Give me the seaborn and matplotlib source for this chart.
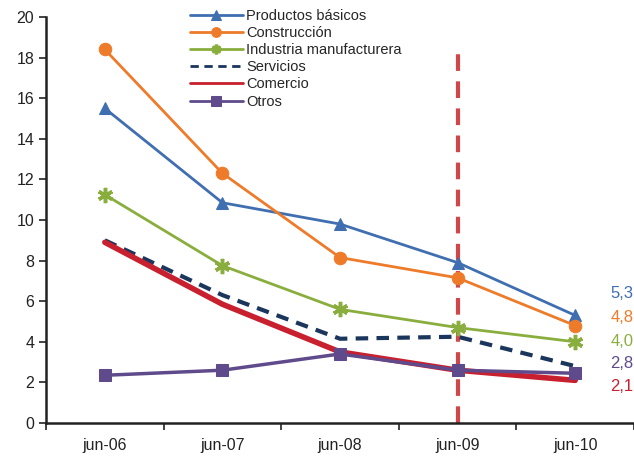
import matplotlib
matplotlib.use("Agg")
import matplotlib.pyplot as plt
import seaborn as sns
import pandas as pd

periods = ["jun-06", "jun-07", "jun-08", "jun-09", "jun-10"]
productos = [15.5, 10.85, 9.8, 7.9, 5.3]
construccion = [18.4, 12.3, 8.15, 7.15, 4.8]
industria = [11.25, 7.75, 5.6, 4.7, 4.0]
servicios = [9.0, 6.3, 4.15, 4.25, 2.8]
comercio = [8.9, 5.85, 3.5, 2.6, 2.1]
otros = [2.35, 2.6, 3.4, 2.6, 2.45]
end_labels = ["5,3", "4,8", "4,0", "2,8", "2,1"]
end_label_y = [6.4, 5.2, 4.0, 2.95, 1.8]
end_label_colors = ["#3F6FB0", "#EE7B2A", "#8AAE3E", "#5F4B8B", "#C8202F"]

sns.set_theme(style="white")
plt.rcParams['font.family'] = ['Liberation Sans', 'DejaVu Sans']

fig = plt.figure(figsize=(6.34, 4.66), dpi=100)
ax = fig.add_axes([0.0726, 0.0923, 0.9274, 0.8712])

series = [
    ("Productos básicos", productos, dict(color="#3F6FB0", marker="^", markersize=9, linewidth=2.0, linestyle="-")),
    ("Construcción", construccion, dict(color="#EE7B2A", marker="o", markersize=9, linewidth=2.0, linestyle="-")),
    ("Industria manufacturera", industria, dict(color="#8AAE3E", marker=(6, 2, 0), markersize=11, markeredgewidth=2.5, linewidth=2.0, linestyle="-")),
    ("Servicios", servicios, dict(color="#1B365D", marker=None, linewidth=3.0, linestyle=(0, (3, 2)))),
    ("Comercio", comercio, dict(color="#C8202F", marker=None, linewidth=4.0, linestyle="-")),
    ("Otros", otros, dict(color="#5F4B8B", marker="s", markersize=9, linewidth=2.5, linestyle="-")),
]

xs = list(range(len(periods)))
for name, vals, kw in series:
    df = pd.DataFrame({"x": xs, "y": vals})
    sns.lineplot(data=df, x="x", y="y", ax=ax, label=name, markeredgecolor=kw["color"], **kw)

# vertical dashed line at jun-09
ax.plot([3, 3], [0, 18.6], color="#D0474A", linewidth=3.0, linestyle=(0, (4, 2.5)), zorder=1)

for lab, yv, c in zip(end_labels, end_label_y, end_label_colors):
    ax.text(4.3, yv, lab, color=c, fontsize=12, va="center", ha="left")

ax.set_xlim(-0.5, 4.5)
ax.set_ylim(0, 20)
ax.set_yticks(range(0, 21, 2))
ax.set_xticks(xs)
ax.set_xticklabels(periods)
ax.set_xticks([i - 0.5 for i in range(6)], minor=True)
ax.tick_params(axis="x", which="major", length=0, pad=11, labelsize=11.5, colors="#222222")
ax.tick_params(axis="x", which="minor", length=5, width=1.2, direction="out", color="#222222", bottom=True)
ax.tick_params(axis="y", length=5, width=1.2, direction="out", left=True, labelsize=11.5, colors="#222222")
ax.set_xlabel("")
ax.set_ylabel("")
for s in ["top", "right"]:
    ax.spines[s].set_visible(False)
for s in ["left", "bottom"]:
    ax.spines[s].set_color("#222222")
    ax.spines[s].set_linewidth(1.8)
ax.set_facecolor("white")

leg = ax.legend(loc="upper left", bbox_to_anchor=(0.235, 1.035), frameon=False, fontsize=10.5,
                handlelength=3.6, handletextpad=0.25, labelspacing=0.22, borderaxespad=0)
for h in leg.legend_handles:
    h.set_linewidth(2.0)
    try:
        h.set_markersize(7)
    except Exception:
        pass

fig.savefig("out.png", dpi=100, facecolor="white")
